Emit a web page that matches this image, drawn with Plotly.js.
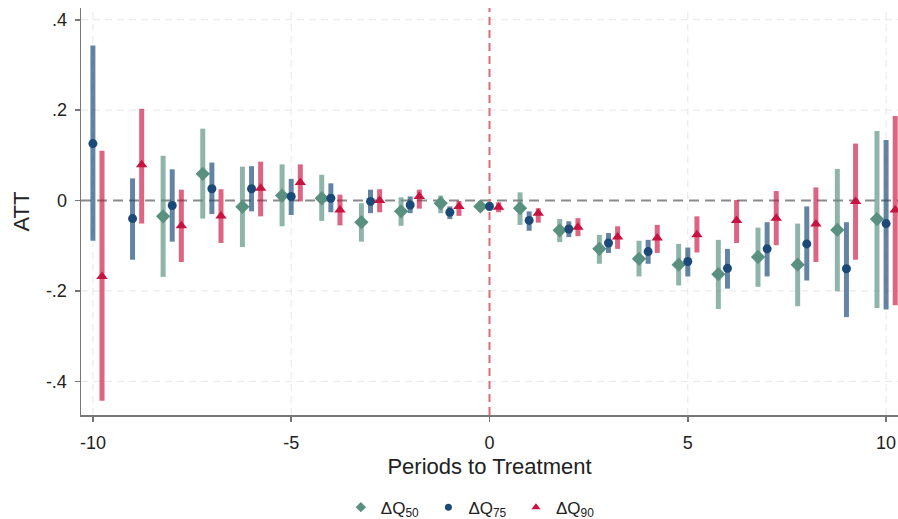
<!DOCTYPE html>
<html>
<head>
<meta charset="utf-8">
<script src="https://cdn.plot.ly/plotly-3.0.1.min.js"></script>
<style>html,body{margin:0;padding:0;background:#fff;}#chart{width:898px;height:519px;}</style>
</head>
<body>
<div id="chart"></div>
<script>
// Periods to treatment
const periods = [-10,-9,-8,-7,-6,-5,-4,-3,-2,-1,0,1,2,3,4,5,6,7,8,9,10];

// ΔQ50 (no estimate at -10, -9)
const q50_est = [null,null,-0.035,0.059,-0.014,0.011,0.005,-0.048,-0.024,-0.006,-0.013,-0.017,-0.066,-0.107,-0.129,-0.142,-0.163,-0.125,-0.142,-0.065,-0.041];
const q50_hi  = [null,null,0.099,0.159,0.075,0.080,0.057,-0.006,0.007,0.011,-0.002,0.018,-0.041,-0.076,-0.089,-0.096,-0.087,-0.060,-0.051,0.070,0.154];
const q50_lo  = [null,null,-0.169,-0.040,-0.103,-0.057,-0.045,-0.091,-0.056,-0.028,-0.024,-0.054,-0.092,-0.140,-0.168,-0.188,-0.240,-0.191,-0.234,-0.201,-0.238];

// ΔQ75
const q75_est = [0.126,-0.040,-0.011,0.026,0.026,0.009,0.005,-0.002,-0.010,-0.026,-0.013,-0.044,-0.063,-0.094,-0.113,-0.135,-0.150,-0.107,-0.096,-0.151,-0.051];
const q75_hi  = [0.343,0.049,0.069,0.084,0.076,0.048,0.038,0.024,0.009,-0.013,-0.004,-0.024,-0.046,-0.072,-0.087,-0.104,-0.107,-0.048,-0.013,-0.048,0.134];
const q75_lo  = [-0.089,-0.131,-0.091,-0.030,-0.024,-0.032,-0.026,-0.028,-0.028,-0.041,-0.022,-0.067,-0.081,-0.116,-0.140,-0.168,-0.195,-0.168,-0.177,-0.258,-0.241];

// ΔQ90
const q90_est = [-0.168,0.079,-0.056,-0.034,0.027,0.040,-0.021,0.000,0.009,-0.013,-0.015,-0.028,-0.059,-0.081,-0.083,-0.076,-0.044,-0.039,-0.052,-0.002,-0.021];
const q90_hi  = [0.110,0.203,0.024,0.025,0.086,0.080,0.013,0.025,0.024,-0.001,-0.004,-0.017,-0.039,-0.057,-0.054,-0.035,0.001,0.021,0.029,0.126,0.187];
const q90_lo  = [-0.443,-0.051,-0.136,-0.094,-0.035,-0.002,-0.055,-0.026,-0.018,-0.034,-0.026,-0.049,-0.079,-0.107,-0.116,-0.115,-0.094,-0.099,-0.136,-0.131,-0.232];

const yTickVals = [-0.4,-0.2,0,0.2,0.4];
const yTickText = ['-.4','-.2','0','.2','.4'];
const xTickVals = [-10,-5,0,5,10];
const xTickText = ['-10','-5','0','5','10'];
const treatmentPeriod = 0;

const names = ['ΔQ<sub>50</sub>','ΔQ<sub>75</sub>','ΔQ<sub>90</sub>'];

function series(est, hi, lo, offset, markerColor, barColor, symbol, size, name) {
  return {
    type: 'scatter', mode: 'markers', name: name, showlegend: false,
    x: periods.map(p => p + offset),
    y: est,
    marker: {color: markerColor, symbol: symbol, size: size, line: {width: 0}},
    error_y: {
      type: 'data', symmetric: false,
      array: est.map((e, i) => e === null ? null : hi[i] - e),
      arrayminus: est.map((e, i) => e === null ? null : e - lo[i]),
      color: barColor, thickness: 5, width: 0
    },
    hoverinfo: 'x+y'
  };
}
function legendItem(markerColor, symbol, size, name) {
  return {type: 'scatter', mode: 'markers', name: name + '\u00a0', x: [null], y: [null],
          marker: {color: markerColor, symbol: symbol, size: size}, showlegend: true};
}

const c50 = '#5a9080', c75 = '#1b4a79', c90 = '#c8123f';
const data = [
  series(q50_est, q50_hi, q50_lo, -0.23, c50, 'rgba(90,144,128,0.68)', 'diamond', 11, names[0]),
  series(q75_est, q75_hi, q75_lo, 0, c75, 'rgba(27,74,121,0.68)', 'circle', 9, names[1]),
  series(q90_est, q90_hi, q90_lo, 0.23, c90, 'rgba(200,18,63,0.65)', 'triangle-up', 10, names[2]),
  legendItem(c50, 'diamond', 8, names[0]),
  legendItem(c75, 'circle', 7, names[1]),
  legendItem(c90, 'triangle-up', 8, names[2])
];

// dashed grid lines (zero lines get their own styles)
const gridX = xTickVals.filter(v => v !== treatmentPeriod).map(v => ({
  type: 'line', xref: 'x', x0: v, x1: v, yref: 'paper', y0: 0, y1: 1,
  line: {color: '#e6e6e6', width: 1, dash: '7px,5px'}, layer: 'below'
}));
const gridY = yTickVals.filter(v => v !== 0).map(v => ({
  type: 'line', xref: 'paper', x0: 0, x1: 1, yref: 'y', y0: v, y1: v,
  line: {color: '#e6e6e6', width: 1, dash: '7px,5px'}, layer: 'below'
}));

const layout = {
  width: 898, height: 519,
  margin: {l: 81, r: 0, t: 8, b: 104},
  paper_bgcolor: '#ffffff', plot_bgcolor: '#ffffff',
  font: {family: 'Liberation Sans, Arial, sans-serif', color: '#222', size: 16},
  xaxis: {
    range: [-10.3, 10.3], tickvals: xTickVals, ticktext: xTickText,
    showline: true, linecolor: '#777', linewidth: 1.5, mirror: false,
    ticks: 'outside', ticklen: 5, tickcolor: '#777', tickwidth: 1.5,
    showgrid: false, zeroline: false, tickfont: {size: 18},
    ticklabelstandoff: 6, automargin: false,
    title: {text: 'Periods to Treatment', font: {size: 22}, standoff: 6}
  },
  yaxis: {
    range: [-0.4746, 0.426], tickvals: yTickVals, ticktext: yTickText,
    showline: true, linecolor: '#777', linewidth: 1.5,
    ticks: 'outside', ticklen: 5, tickcolor: '#777', tickwidth: 1.5,
    showgrid: false, zeroline: false, tickfont: {size: 18}, automargin: false,
    ticklabelstandoff: 4,
    title: {text: 'ATT', font: {size: 22}, standoff: 10}
  },
  shapes: gridX.concat(gridY, [
    {type: 'line', xref: 'paper', x0: 0, x1: 1, yref: 'y', y0: 0, y1: 0,
     line: {color: '#8a8a8a', width: 2, dash: '10px,6px'}, layer: 'below'},
    {type: 'line', xref: 'x', x0: treatmentPeriod, x1: treatmentPeriod, yref: 'paper', y0: 0, y1: 1,
     line: {color: '#e06a78', width: 2, dash: '8px,5px'}, layer: 'below'}
  ]),
  legend: {
    orientation: 'h', x: 0.479, xanchor: 'center',
    yref: 'container', y: 0.022, yanchor: 'middle',
    font: {size: 17}, itemwidth: 30, bgcolor: 'rgba(0,0,0,0)'
  },
  showlegend: true
};

Plotly.newPlot('chart', data, layout, {displayModeBar: false, staticPlot: true});
</script>
</body>
</html>
